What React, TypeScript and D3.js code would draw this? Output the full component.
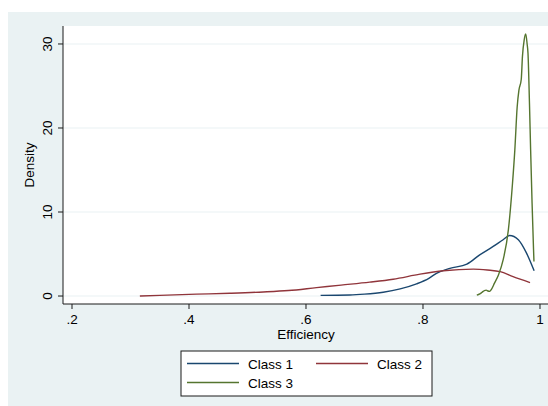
import React from "react";
import * as d3 from "d3";

// Kernel density estimates of efficiency by class (x = efficiency, y = density)
const class1X = [0.625, 0.675, 0.7, 0.732, 0.761, 0.789, 0.81, 0.823, 0.846, 0.875, 0.897, 0.92, 0.937, 0.948, 0.963, 0.977, 0.99];
const class1Y = [0.08, 0.12, 0.22, 0.45, 0.85, 1.45, 2.1, 2.7, 3.3, 3.8, 4.9, 5.9, 6.7, 7.2, 6.7, 5.1, 3.0];

const class2X = [0.316, 0.35, 0.413, 0.47, 0.527, 0.57, 0.618, 0.66, 0.709, 0.749, 0.795, 0.835, 0.886, 0.91, 0.932, 0.954, 0.983];
const class2Y = [0.0, 0.08, 0.22, 0.33, 0.48, 0.65, 1.0, 1.3, 1.65, 2.0, 2.6, 3.0, 3.2, 3.1, 2.9, 2.3, 1.6];

const class3X = [0.892, 0.897, 0.901, 0.905, 0.908, 0.911, 0.914, 0.917, 0.922, 0.929, 0.937, 0.946, 0.953, 0.957, 0.961, 0.964, 0.968, 0.97, 0.973, 0.9756, 0.978, 0.9795, 0.982, 0.984, 0.9865, 0.989, 0.9897];
const class3Y = [0.1, 0.25, 0.45, 0.65, 0.7, 0.6, 0.55, 0.8, 1.5, 2.5, 4.3, 7.9, 13.4, 17.4, 22.5, 24.5, 25.8, 28.5, 30.5, 31.2, 30.0, 28.9, 23, 17.4, 11, 5.5, 4.1];

const seriesNames = ["Class 1", "Class 2", "Class 3"];
const seriesColors = ["#1a476f", "#90353b", "#55752f"];

const xTicks = [0.2, 0.4, 0.6, 0.8, 1];
const xTickLabels = [".2", ".4", ".6", ".8", "1"];
const yTicks = [0, 10, 20, 30];

const W = 548;
const H = 406;
const plotLeft = 63;
const plotRight = 548;
const plotTop = 26;
const plotBottom = 304;

const font = "'Liberation Sans', Arial, sans-serif";

export default function App() {
  const x = d3.scaleLinear().domain([0.1846, 1.0137]).range([plotLeft, plotRight]);
  const y = d3.scaleLinear().domain([-0.95, 32.14]).range([plotBottom, plotTop]);

  const series = [
    class1X.map((v, i) => [v, class1Y[i]] as [number, number]),
    class2X.map((v, i) => [v, class2Y[i]] as [number, number]),
    class3X.map((v, i) => [v, class3Y[i]] as [number, number]),
  ];

  const line = d3
    .line<[number, number]>()
    .x((d) => x(d[0]))
    .y((d) => y(d[1]))
    .curve(d3.curveMonotoneX);

  const legendItems = [
    { i: 0, lx: 187, ly: 363.5 },
    { i: 1, lx: 316, ly: 363.5 },
    { i: 2, lx: 187, ly: 382.5 },
  ];

  return (
    <svg width={W} height={H} style={{ position: "absolute", left: 0, top: 0 }} fontFamily={font}>
      <rect x={0} y={0} width={W} height={H} fill="#ffffff" />
      <rect x={8} y={12} width={W - 8} height={H - 12} fill="#eaf2f3" />
      <rect x={plotLeft} y={plotTop} width={plotRight - plotLeft} height={plotBottom - plotTop} fill="#ffffff" />

      {/* horizontal grid */}
      {yTicks.map((t) => (
        <line key={"g" + t} x1={plotLeft} x2={plotRight} y1={y(t)} y2={y(t)} stroke="#eaf2f3" strokeWidth={1.2} />
      ))}

      {/* density curves */}
      {series.map((s, i) => (
        <path key={seriesNames[i]} d={line(s) || ""} fill="none" stroke={seriesColors[i]} strokeWidth={1.4} />
      ))}

      {/* axes */}
      <line x1={plotLeft} x2={plotLeft} y1={plotTop} y2={plotBottom} stroke="#1a1a1a" strokeWidth={1} />
      <line x1={plotLeft} x2={plotRight} y1={plotBottom} y2={plotBottom} stroke="#1a1a1a" strokeWidth={1} />

      {yTicks.map((t) => (
        <g key={"y" + t}>
          <line x1={plotLeft - 5} x2={plotLeft} y1={y(t)} y2={y(t)} stroke="#1a1a1a" strokeWidth={1} />
          <text
            transform={`translate(${51.5},${y(t)}) rotate(-90)`}
            textAnchor="middle"
            fontSize={13.5}
            fill="#000"
          >
            {t}
          </text>
        </g>
      ))}

      {xTicks.map((t, i) => (
        <g key={"x" + t}>
          <line x1={x(t)} x2={x(t)} y1={plotBottom} y2={plotBottom + 5} stroke="#1a1a1a" strokeWidth={1} />
          <text x={x(t)} y={324} textAnchor="middle" fontSize={13.5} fill="#000">
            {xTickLabels[i]}
          </text>
        </g>
      ))}

      <text transform={`translate(34,${(plotTop + plotBottom) / 2}) rotate(-90)`} textAnchor="middle" fontSize={13.5} fill="#000">
        Density
      </text>
      <text x={(plotLeft + plotRight) / 2 + 0.5} y={338.5} textAnchor="middle" fontSize={13.5} fill="#000">
        Efficiency
      </text>

      {/* legend */}
      <rect x={181} y={351} width={251} height={45} fill="#ffffff" stroke="#1a1a1a" strokeWidth={1} />
      {legendItems.map(({ i, lx, ly }) => (
        <g key={"l" + i}>
          <line x1={lx} x2={lx + 52} y1={ly} y2={ly} stroke={seriesColors[i]} strokeWidth={1.4} />
          <text x={lx + 61} y={ly + 5} fontSize={13.5} fill="#000">
            {seriesNames[i]}
          </text>
        </g>
      ))}
    </svg>
  );
}
